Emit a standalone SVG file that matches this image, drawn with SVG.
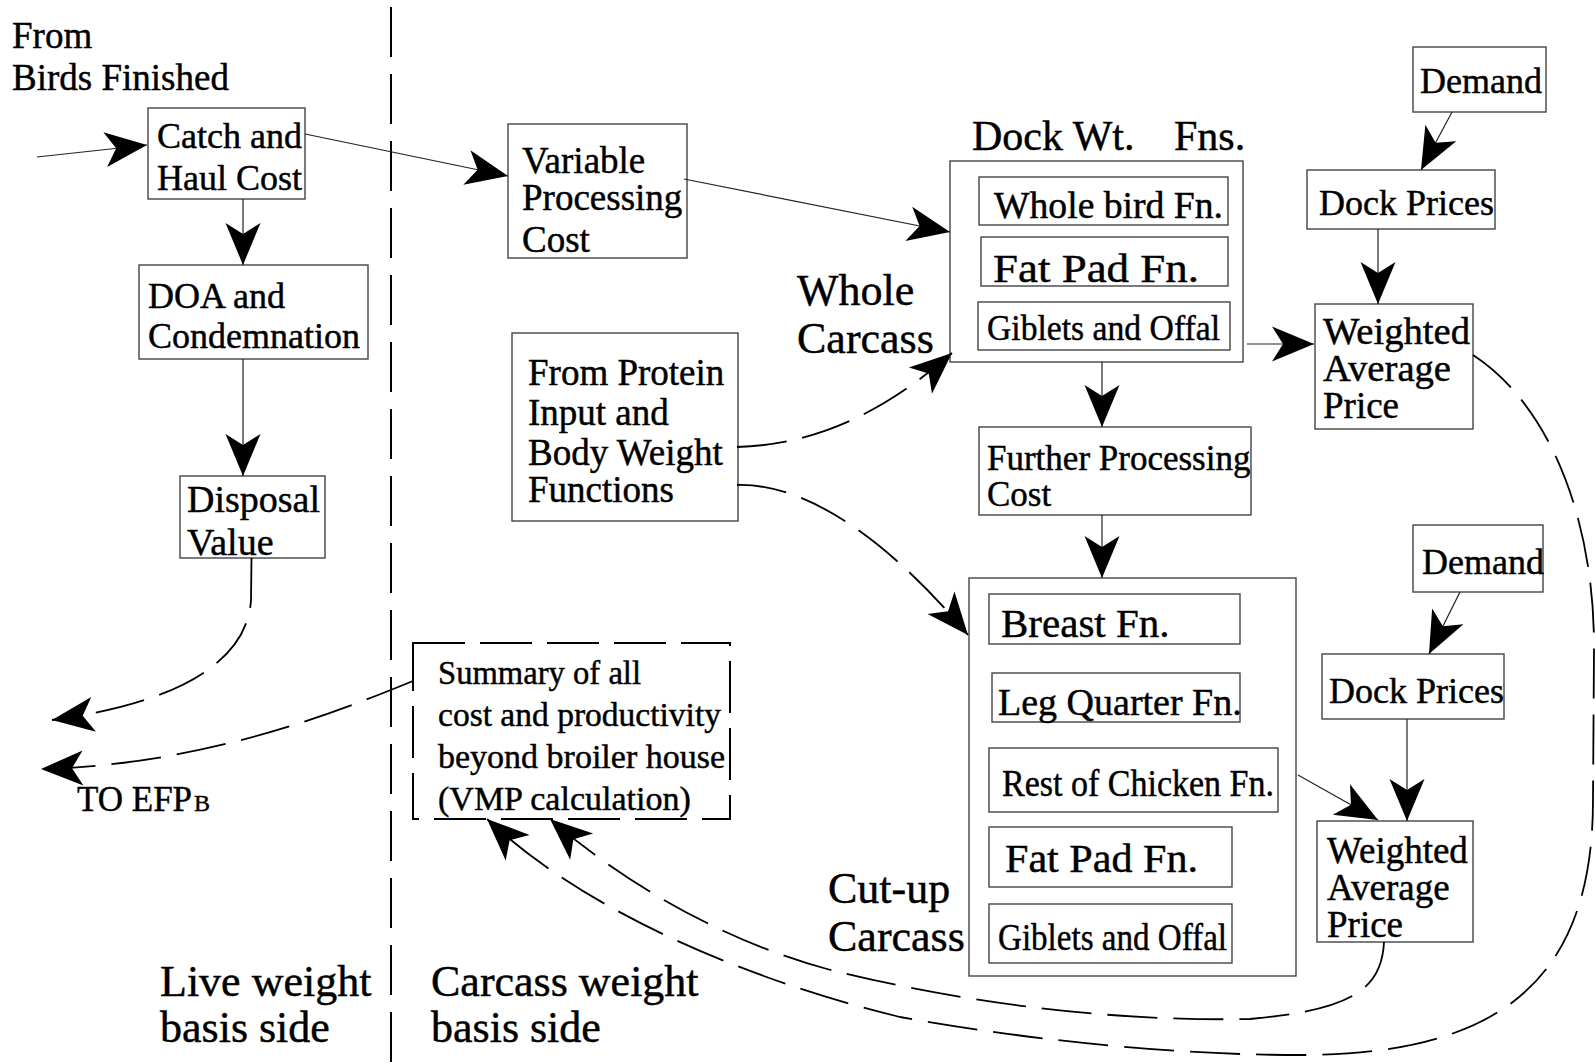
<svg xmlns="http://www.w3.org/2000/svg" width="1595" height="1063" viewBox="0 0 1595 1063">
<style>
text{font-family:"Liberation Serif","Times New Roman",serif;fill:#000;stroke:#000;stroke-width:0.45px}
.box{fill:none;stroke:#444;stroke-width:1.4}
.ln{fill:none;stroke:#222;stroke-width:1.2;marker-end:url(#ah)}
.dl{fill:none;stroke:#000;stroke-width:1.8;stroke-dasharray:50 16;marker-end:url(#ah)}
.div{fill:none;stroke:#000;stroke-width:2;stroke-dasharray:50 17}
.sum{fill:none;stroke:#000;stroke-width:2;stroke-dasharray:52 15}
.f36{font-size:36px}.f37{font-size:37px}.f38{font-size:38px}.f44{font-size:44px}
</style>
<defs>
<marker id="ah" markerUnits="userSpaceOnUse" markerWidth="50" markerHeight="40" viewBox="-45 -20 50 40" refX="0" refY="0" orient="auto">
<path d="M0,0 L-42,-17.5 L-31,0 L-42,17.5 Z" fill="#000"/>
</marker>
</defs>

<rect width="1595" height="1063" fill="#fff"/>

<g id="divider">
<line class="div" x1="391" y1="7" x2="391" y2="1063"/>
</g>

<g id="labels">
<text class="f37" x="12" y="48">From</text>
<text class="f37" x="12" y="90">Birds Finished</text>
<text class="f44" x="797" y="305">Whole</text>
<text class="f44" x="797" y="353">Carcass</text>
<text class="f44" x="828" y="903">Cut-up</text>
<text class="f44" x="828" y="951">Carcass</text>
<text class="f44" x="160" y="996">Live weight</text>
<text class="f44" x="160" y="1042">basis side</text>
<text class="f44" x="431" y="996">Carcass weight</text>
<text class="f44" x="431" y="1042">basis side</text>
<text x="77" y="811" style="font-size:35px">TO EFP<tspan x="194" style="font-size:24px">B</tspan></text>
</g>

<g id="catch-haul">
<rect class="box" x="148" y="108" width="157" height="91"/>
<text class="f36" x="157" y="148">Catch and</text>
<text class="f36" x="157" y="190">Haul Cost</text>
</g>

<g id="doa">
<rect class="box" x="139" y="265" width="229" height="94"/>
<text class="f36" x="148" y="308">DOA and</text>
<text class="f36" x="148" y="348">Condemnation</text>
</g>

<g id="disposal">
<rect class="box" x="180" y="476" width="145" height="82"/>
<text class="f38" x="187" y="512">Disposal</text>
<text class="f38" x="187" y="555">Value</text>
</g>

<g id="variable-processing">
<rect class="box" x="508" y="124" width="179" height="134"/>
<text class="f37" x="522" y="173">Variable</text>
<text class="f37" x="522" y="210">Processing</text>
<text class="f37" x="522" y="252">Cost</text>
</g>

<g id="protein-input">
<rect class="box" x="512" y="333" width="226" height="188"/>
<text class="f37" x="528" y="385">From Protein</text>
<text class="f37" x="528" y="425">Input and</text>
<text class="f37" x="528" y="465">Body Weight</text>
<text class="f37" x="528" y="502">Functions</text>
</g>

<g id="dock-wt-fns">
<text x="972" y="150" style="font-size:42px">Dock Wt. <tspan x="1174">Fns.</tspan></text>
<rect class="box" x="950" y="161" width="293" height="201"/>
</g>
<g id="whole-bird-fn">
<rect class="box" x="979" y="177" width="249" height="48"/>
<text class="f37" x="994" y="218" textLength="229" lengthAdjust="spacingAndGlyphs">Whole bird Fn.</text>
</g>
<g id="fat-pad-fn-1">
<rect class="box" x="981" y="237" width="247" height="49"/>
<text x="993" y="282" style="font-size:40px" textLength="206" lengthAdjust="spacingAndGlyphs">Fat Pad Fn.</text>
</g>
<g id="giblets-offal-1">
<rect class="box" x="978" y="302" width="252" height="48"/>
<text class="f36" x="987" y="340" textLength="233" lengthAdjust="spacingAndGlyphs">Giblets and Offal</text>
</g>

<g id="demand-1">
<rect class="box" x="1413" y="47" width="133" height="65"/>
<text class="f36" x="1420" y="93">Demand</text>
</g>
<g id="dock-prices-1">
<rect class="box" x="1307" y="170" width="188" height="59"/>
<text class="f36" x="1319" y="215">Dock Prices</text>
</g>
<g id="wap-1">
<rect class="box" x="1315" y="304" width="158" height="125"/>
<text class="f37" x="1323" y="344" textLength="147" lengthAdjust="spacingAndGlyphs">Weighted</text>
<text class="f37" x="1323" y="381" textLength="128" lengthAdjust="spacingAndGlyphs">Average</text>
<text class="f37" x="1323" y="418">Price</text>
</g>

<g id="further-processing">
<rect class="box" x="979" y="427" width="272" height="88"/>
<text x="987" y="470" style="font-size:35px">Further Processing</text>
<text x="987" y="506" style="font-size:35px">Cost</text>
</g>

<g id="cut-up">
<rect class="box" x="969" y="578" width="327" height="398"/>
</g>
<g id="breast-fn">
<rect class="box" x="989" y="594" width="251" height="50"/>
<text x="1001" y="637" style="font-size:41px">Breast Fn.</text>
</g>
<g id="leg-quarter-fn">
<rect class="box" x="992" y="673" width="248" height="49"/>
<text class="f38" x="998" y="715">Leg Quarter Fn.</text>
</g>
<g id="rest-of-chicken-fn">
<rect class="box" x="989" y="748" width="289" height="64"/>
<text class="f38" x="1002" y="796" textLength="272" lengthAdjust="spacingAndGlyphs">Rest of Chicken Fn.</text>
</g>
<g id="fat-pad-fn-2">
<rect class="box" x="989" y="827" width="243" height="60"/>
<text x="1005" y="872" style="font-size:40px" textLength="193" lengthAdjust="spacingAndGlyphs">Fat Pad Fn.</text>
</g>
<g id="giblets-offal-2">
<rect class="box" x="989" y="904" width="243" height="59"/>
<text class="f38" x="998" y="950" textLength="229" lengthAdjust="spacingAndGlyphs">Giblets and Offal</text>
</g>

<g id="demand-2">
<rect class="box" x="1413" y="525" width="130" height="67"/>
<text class="f36" x="1422" y="574">Demand</text>
</g>
<g id="dock-prices-2">
<rect class="box" x="1322" y="654" width="182" height="65"/>
<text class="f36" x="1329" y="703">Dock Prices</text>
</g>
<g id="wap-2">
<rect class="box" x="1317" y="821" width="156" height="121"/>
<text class="f37" x="1327" y="863">Weighted</text>
<text class="f37" x="1327" y="900">Average</text>
<text class="f37" x="1327" y="937">Price</text>
</g>

<g id="summary">
<rect class="sum" x="413" y="643" width="317" height="176"/>
<text x="438" y="684" style="font-size:34px" textLength="203" lengthAdjust="spacingAndGlyphs">Summary of all</text>
<text x="438" y="726" style="font-size:34px" textLength="283" lengthAdjust="spacingAndGlyphs">cost and productivity</text>
<text x="438" y="768" style="font-size:34px">beyond broiler house</text>
<text x="438" y="810" style="font-size:34px">(VMP calculation)</text>
</g>

<g id="connectors">
<path class="ln" d="M37,157 L147,145"/>
<path class="ln" d="M305,134 L508,176"/>
<path class="ln" d="M243,199 L243,265"/>
<path class="ln" d="M243,359 L243,476"/>
<path class="ln" d="M684,179 L950,232"/>
<path class="ln" d="M1247,344 L1314,344"/>
<path class="ln" d="M1452,112 L1421,170"/>
<path class="ln" d="M1378,229 L1378,304"/>
<path class="ln" d="M1102,362 L1102,427"/>
<path class="ln" d="M1102,515 L1102,578"/>
<path class="ln" d="M1460,592 L1429,654"/>
<path class="ln" d="M1407,719 L1407,821"/>
<path class="ln" d="M1298,775 L1378,820"/>
<path class="dl" d="M737,447 C800,445 870,425 952,353"/>
<path class="dl" d="M737,485 C800,483 880,530 968,635"/>
<path class="dl" d="M251.5,558 L251,600 C248,650 200,700 52,720"/>
<path class="dl" d="M413,681 C330,715 200,765 41,769"/>
<path class="dl" d="M1384,942 C1382,990 1350,1010 1250,1019 C1100,1022 950,1000 827,969 C720,940 620,880 550,819"/>
<path class="dl" d="M1473,355 C1550,405 1595,520 1594,650 L1593,800 C1593,980 1500,1055 1300,1055 C1150,1055 1000,1035 900,1017 C780,988 600,925 487,819"/>
</g>
</svg>
